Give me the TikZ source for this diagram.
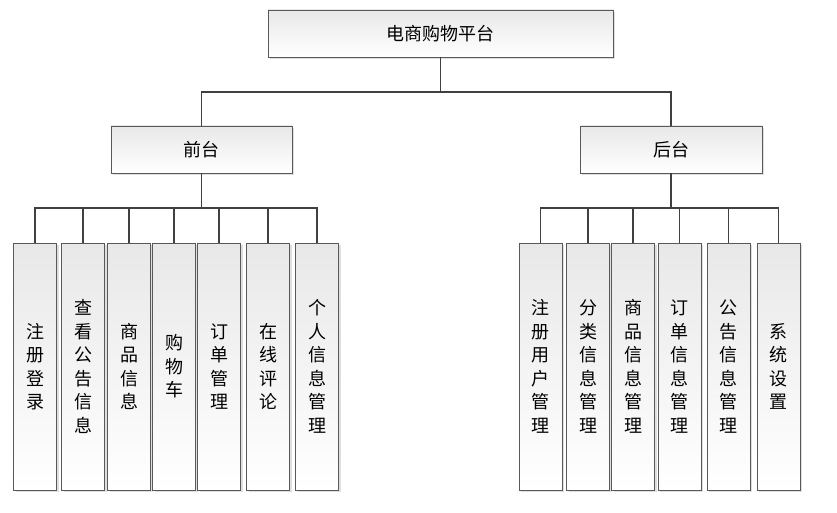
\documentclass[tikz,border=0pt]{standalone}
\usepackage{fontspec}
\setmainfont{Noto Sans CJK SC}
\usetikzlibrary{shadows}
\begin{document}
\begin{tikzpicture}[x=1pt,y=-1pt,
  box/.style={draw=black!65,line width=0.9pt,top color=gray!18,bottom color=white,
    drop shadow={shadow xshift=2pt,shadow yshift=-2pt,fill=gray!35,opacity=0.7},
    inner sep=0pt,font=\fontsize{18}{23.5}\selectfont,align=center},
  hbox/.style={box,minimum width=#1,minimum height=47pt},
  vbox/.style={box,minimum height=247pt,minimum width=43pt},
  ln/.style={draw=black!75,line width=1.3pt}]
\useasboundingbox (0,0) rectangle (837,513);
\node[hbox=345pt] (top) at (440.5,33.5) {电商购物平台};
\node[hbox=181pt] (fr) at (201.5,149.5) {前台};
\node[hbox=182pt] (bk) at (671,149.5) {后台};
\coordinate (j) at (440.5,92);
\draw[ln] (top.south) -- (j);
\draw[ln] (j) -| (fr.north);
\draw[ln] (j) -| (bk.north);
% front
\foreach \n/\x/\t in {f1/35/注\\册\\登\\录, f2/83/查\\看\\公\\告\\信\\息, f3/129/商\\品\\信\\息,
  f4/174/购\\物\\车, f5/219/订\\单\\管\\理, f6/268/在\\线\\评\\论, f7/317/个\\人\\信\\息\\管\\理}{
  \node[vbox] (\n) at (\x,366.5) {\t};
}
\coordinate (fj) at (201.5,208);
\draw[ln] (fr.south) -- (fj);
\draw[ln] (f1.north) |- (fj) -| (f7.north);
\foreach \n in {f2,f3,f4,f5,f6}{\draw[ln] (\n.north) -- (\n.north |- fj);}
% back
\foreach \n/\x/\t in {b1/540.5/注\\册\\用\\户\\管\\理, b2/588/分\\类\\信\\息\\管\\理, b3/633/商\\品\\信\\息\\管\\理,
  b4/679.5/订\\单\\信\\息\\管\\理, b5/728.5/公\\告\\信\\息\\管\\理, b6/778.5/系\\统\\设\\置}{
  \node[vbox] (\n) at (\x,366.5) {\t};
}
\coordinate (bj) at (671,208);
\draw[ln] (bk.south) -- (bj);
\draw[ln] (b1.north) |- (bj) -| (b6.north);
\foreach \n in {b2,b3,b4,b5}{\draw[ln] (\n.north) -- (\n.north |- bj);}
\end{tikzpicture}
\end{document}
